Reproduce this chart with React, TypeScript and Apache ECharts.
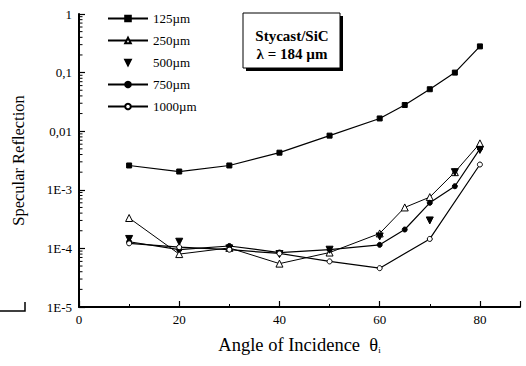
import React, { useEffect, useRef } from "react";
import * as echarts from "echarts";

const angles125 = [10, 20, 30, 40, 50, 60, 65, 70, 75, 80];
const vals125 = [2.6e-3, 2.05e-3, 2.6e-3, 4.3e-3, 8.4e-3, 0.0165, 0.028, 0.052, 0.1, 0.28];
const angles250 = [10, 20, 30, 40, 50, 60, 65, 70, 75, 80];
const vals250 = [3.3e-4, 8.0e-5, 1.02e-4, 5.5e-5, 8.5e-5, 1.8e-4, 5.0e-4, 7.5e-4, 2.0e-3, 6.2e-3];
const angles500 = [10, 20, 30, 40, 50, 60, 70, 75, 80];
const vals500 = [1.45e-4, 1.3e-4, 1.0e-4, 8.0e-5, 9.5e-5, 1.6e-4, 3.0e-4, 2.0e-3, 4.8e-3];
const angles750 = [10, 20, 30, 40, 50, 60, 65, 70, 75, 80];
const vals750 = [1.3e-4, 9.5e-5, 1.1e-4, 8.5e-5, 9.5e-5, 1.15e-4, 2.1e-4, 6.0e-4, 1.15e-3, 5.0e-3];
const angles1000 = [10, 20, 30, 40, 50, 60, 70, 80];
const vals1000 = [1.22e-4, 1.05e-4, 9.5e-5, 8.2e-5, 6.0e-5, 4.6e-5, 1.45e-4, 2.7e-3];

const yTickLabels: Record<string, string> = {
  "1": "1",
  "0.1": "0,1",
  "0.01": "0,01",
  "0.001": "1E-3",
  "0.0001": "1E-4",
  "0.00001": "1E-5",
  "1e-5": "1E-5",
};
const yMinorTicks = [
  2e-5, 3e-5, 4e-5, 5e-5, 6e-5, 7e-5, 8e-5, 9e-5,
  2e-4, 3e-4, 4e-4, 5e-4, 6e-4, 7e-4, 8e-4, 9e-4,
  2e-3, 3e-3, 4e-3, 5e-3, 6e-3, 7e-3, 8e-3, 9e-3,
  0.02, 0.03, 0.04, 0.05, 0.06, 0.07, 0.08, 0.09,
  0.2, 0.3, 0.4, 0.5, 0.6, 0.7, 0.8, 0.9,
];

const FONT = "Liberation Serif";

function pairs(xs: number[], ys: number[]) {
  return xs.map((x, i) => [x, ys[i]]);
}

export default function App() {
  const ref = useRef<HTMLDivElement>(null);
  useEffect(() => {
    if (!ref.current) return;
    const chart = echarts.init(ref.current, null, { renderer: "svg" });
    const lineBase = { type: "line", lineStyle: { color: "#000", width: 1.2 }, itemStyle: { color: "#000", borderColor: "#000", borderWidth: 1 }, symbolSize: 5, z: 3 };
    chart.setOption({
      animation: false,
      backgroundColor: "#fff",
      textStyle: { fontFamily: FONT, color: "#000" },
      grid: { left: 79, right: 6, top: 14, bottom: 59 },
      legend: {
        orient: "vertical",
        left: 102,
        top: 7,
        itemWidth: 40,
        itemHeight: 7,
        itemGap: 9,
        data: ["125µm", "250µm", "500µm", "750µm", "1000µm"],
        textStyle: { fontFamily: FONT, fontSize: 13, color: "#000", lineHeight: 13 },
      },
      xAxis: {
        type: "value",
        min: 0,
        max: 88,
        interval: 20,
        name: "Angle of Incidence  θ{sub|i}",
        nameLocation: "middle",
        nameGap: 28,
        nameTextStyle: {
          fontFamily: FONT,
          fontSize: 18.5,
          color: "#000",
          rich: { sub: { fontSize: 9, verticalAlign: "bottom", padding: [8, 0, 0, 0], fontFamily: FONT } },
        },
        axisLine: { lineStyle: { color: "#000", width: 2 } },
        axisTick: { inside: true, length: 6, lineStyle: { color: "#000", width: 1.2 } },
        minorTick: { show: true, splitNumber: 2, length: 3, lineStyle: { color: "#000" } },
        axisLabel: {
          fontFamily: FONT,
          fontSize: 13,
          color: "#000",
          margin: 6,
          showMaxLabel: false,
          formatter: (v: number) => (v % 20 === 0 ? String(v) : ""),
        },
        splitLine: { show: false },
      },
      yAxis: {
        type: "log",
        logBase: 10,
        min: 1e-5,
        max: 1,
        name: "Specular Reflection",
        nameLocation: "middle",
        nameGap: 52,
        nameTextStyle: { fontFamily: FONT, fontSize: 16.5, color: "#000" },
        axisLine: { lineStyle: { color: "#000", width: 2 } },
        axisTick: { inside: true, length: 6, lineStyle: { color: "#000", width: 1.2 } },
        minorTick: { show: false },
        axisLabel: {
          fontFamily: FONT,
          fontSize: 13,
          color: "#000",
          margin: 7,
          formatter: (v: number) => {
            const k = String(v);
            if (yTickLabels[k]) return yTickLabels[k];
            const e = Math.round(Math.log10(v));
            return e >= -2 ? String(v).replace(".", ",") : "1E" + e;
          },
        },
        splitLine: { show: false },
      },
      series: [
        { ...lineBase, name: "125µm", symbol: "rect", data: pairs(angles125, vals125) },
        { ...lineBase, name: "250µm", symbol: "triangle", symbolSize: 7, itemStyle: { color: "#fff", borderColor: "#000", borderWidth: 1 }, lineStyle: { color: "#000", width: 1 }, data: pairs(angles250, vals250) },
        { ...lineBase, name: "500µm", symbol: "triangle", symbolRotate: 180, symbolSize: 7, lineStyle: { width: 0, color: "#000" }, data: pairs(angles500, vals500) },
        { ...lineBase, name: "750µm", symbol: "circle", data: pairs(angles750, vals750) },
        { ...lineBase, name: "1000µm", symbol: "circle", itemStyle: { color: "#fff", borderColor: "#000", borderWidth: 1 }, data: pairs(angles1000, vals1000) },
        {
          type: "custom",
          name: "minorTicks",
          silent: true,
          clip: false,
          data: yMinorTicks.map((v) => [0, v]),
          renderItem: (params: any, api: any) => {
            const p = api.coord([0, api.value(1)]);
            return {
              type: "line",
              shape: { x1: p[0], y1: p[1], x2: p[0] + 3.5, y2: p[1] },
              style: { stroke: "#000", lineWidth: 1 },
            };
          },
        },
      ],
      graphic: [
        { type: "rect", shape: { x: 246, y: 16, width: 97, height: 55 }, style: { fill: "#000" }, z: 10 },
        { type: "rect", shape: { x: 243, y: 13, width: 97, height: 55 }, style: { fill: "#fff", stroke: "#000", lineWidth: 1 }, z: 11 },
        { type: "text", x: 292, y: 36, style: { text: "Stycast/SiC", fontFamily: FONT, fontSize: 15, fontWeight: "bold", fill: "#000", align: "center", verticalAlign: "middle" }, z: 12 },
        { type: "text", x: 292, y: 54, style: { text: "λ = 184 µm", fontFamily: FONT, fontSize: 15, fontWeight: "bold", fill: "#000", align: "center", verticalAlign: "middle" }, z: 12 },
        { type: "polyline", shape: { points: [[0, 311], [25, 311], [25, 302]] }, style: { stroke: "#000", lineWidth: 1.5, fill: null }, z: 10 },
      ],
    });
    return () => chart.dispose();
  }, []);
  return <div ref={ref} style={{ position: "absolute", left: 0, top: 0, width: 526, height: 366 }} />;
}
